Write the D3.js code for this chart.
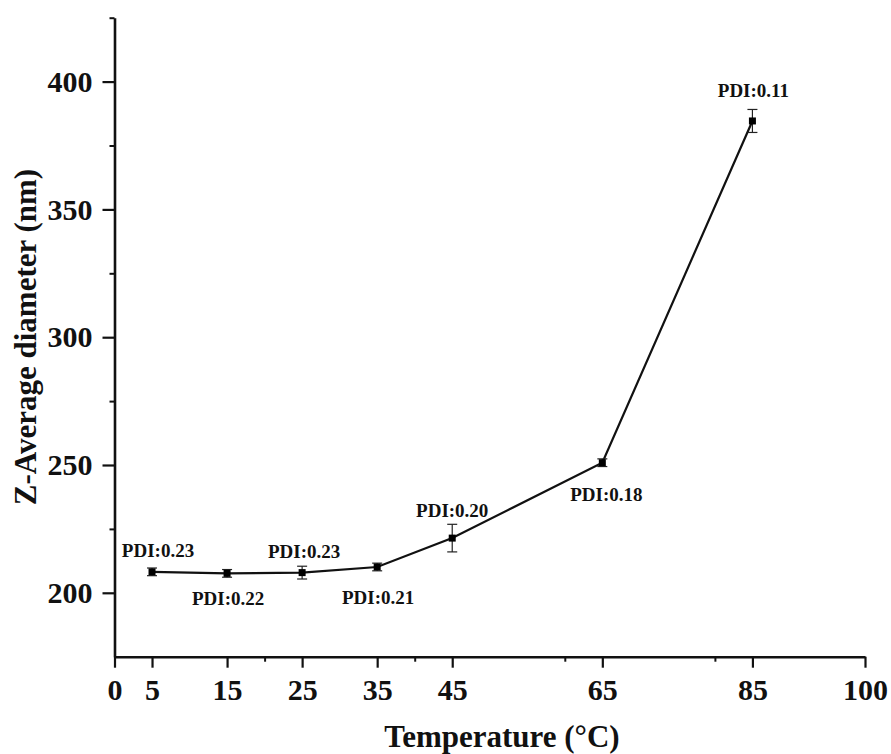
<!DOCTYPE html>
<html>
<head>
<meta charset="utf-8">
<script src="https://cdn.jsdelivr.net/npm/d3@7"></script>
<style>
    html, body { margin: 0; padding: 0; background: #fff; }
    svg { display: block; font-family: "Liberation Serif", "Times New Roman", serif; }
</style>
</head>
<body>
<svg id="chart" width="891" height="754"></svg>
<script>
// Data
const temperatures = [5, 15, 25, 35, 45, 65, 85];
const diameters = [208.2, 207.6, 207.9, 210.1, 221.4, 250.9, 384.6];
const errors = [1.5, 1.5, 2.5, 1.5, 5.4, 1.5, 4.5];
const pdiLabels = ['PDI:0.23', 'PDI:0.22', 'PDI:0.23', 'PDI:0.21', 'PDI:0.20', 'PDI:0.18', 'PDI:0.11'];

// Axis ticks
const xMajorTicks = [0, 5, 15, 25, 35, 45, 65, 85, 100];
const xMinorTicks = [20, 40, 60, 80];
const yMajorTicks = [200, 250, 300, 350, 400];
const yMinorTicks = [225, 275, 325, 375, 425];

// Label placement (pixel offsets from each point)
const labelOffsets = [[6, -15], [1, 32], [2, -15], [1, 37], [0, -21], [4, 38], [1, -24]];

const data = temperatures.map((t, i) => ({
    t: t,
    d: diameters[i],
    e: errors[i],
    label: pdiLabels[i],
    off: labelOffsets[i]
}));

const svg = d3.select('#chart');

// Scales
const xScale = d3.scaleLinear().domain([0, 100]).range([114.5, 865]);
const yScale = d3.scaleLinear().domain([175, 425]).range([656.7, 17.7]);

const axisColor = '#111';
const serif = '"Liberation Serif", "Times New Roman", serif';

// X axis (major ticks with labels)
const xAxis = svg.append('g')
    .attr('transform', `translate(0,${yScale(175)})`)
    .call(d3.axisBottom(xScale).tickValues(xMajorTicks).tickSize(11).tickPadding(11).tickSizeOuter(0));
xAxis.select('.domain').attr('stroke', axisColor).attr('stroke-width', 2.6);
xAxis.selectAll('.tick line').attr('stroke', axisColor).attr('stroke-width', 2.2);
xAxis.selectAll('.tick text')
    .attr('fill', '#111')
    .style('font-size', '30px')
    .style('font-weight', 'bold')
    .style('font-family', serif);

// X axis minor ticks
svg.append('g')
    .attr('transform', `translate(0,${yScale(175)})`)
    .call(d3.axisBottom(xScale).tickValues(xMinorTicks).tickSize(5).tickFormat(''))
    .call(g => g.select('.domain').remove())
    .selectAll('.tick line').attr('stroke', axisColor).attr('stroke-width', 2);

// Y axis (major ticks with labels)
const yAxis = svg.append('g')
    .attr('transform', `translate(${xScale(0)},0)`)
    .call(d3.axisLeft(yScale).tickValues(yMajorTicks).tickSize(12).tickPadding(10).tickSizeOuter(0));
yAxis.select('.domain').attr('stroke', axisColor).attr('stroke-width', 2.6);
yAxis.selectAll('.tick line').attr('stroke', axisColor).attr('stroke-width', 2.2);
yAxis.selectAll('.tick text')
    .attr('fill', '#111')
    .style('font-size', '30px')
    .style('font-weight', 'bold')
    .style('font-family', serif);

// Y axis minor ticks
svg.append('g')
    .attr('transform', `translate(${xScale(0)},0)`)
    .call(d3.axisLeft(yScale).tickValues(yMinorTicks).tickSize(5).tickFormat(''))
    .call(g => g.select('.domain').remove())
    .selectAll('.tick line').attr('stroke', axisColor).attr('stroke-width', 2);

// Connecting line
const line = d3.line()
    .x(d => xScale(d.t))
    .y(d => yScale(d.d));

svg.append('path')
    .datum(data)
    .attr('fill', 'none')
    .attr('stroke', '#111')
    .attr('stroke-width', 2.2)
    .attr('d', line);

// Error bars
const capHalf = 5;
const eb = svg.append('g').attr('stroke', '#222').attr('stroke-width', 1.2);
data.forEach(d => {
    const x = xScale(d.t);
    const y1 = yScale(d.d + d.e);
    const y2 = yScale(d.d - d.e);
    eb.append('line').attr('x1', x).attr('x2', x).attr('y1', y1).attr('y2', y2);
    eb.append('line').attr('x1', x - capHalf).attr('x2', x + capHalf).attr('y1', y1).attr('y2', y1);
    eb.append('line').attr('x1', x - capHalf).attr('x2', x + capHalf).attr('y1', y2).attr('y2', y2);
});

// Square markers
const ms = 7;
svg.selectAll('.marker')
    .data(data)
    .enter()
    .append('rect')
    .attr('class', 'marker')
    .attr('x', d => xScale(d.t) - ms / 2)
    .attr('y', d => yScale(d.d) - ms / 2)
    .attr('width', ms)
    .attr('height', ms)
    .attr('fill', '#000');

// PDI labels
svg.selectAll('.pdi')
    .data(data)
    .enter()
    .append('text')
    .attr('class', 'pdi')
    .attr('x', d => xScale(d.t) + d.off[0])
    .attr('y', d => yScale(d.d) + d.off[1])
    .attr('text-anchor', 'middle')
    .attr('fill', '#111')
    .style('font-size', '19px')
    .style('font-weight', 'bold')
    .text(d => d.label);

// Axis titles
svg.append('text')
    .attr('x', 502)
    .attr('y', 747)
    .attr('text-anchor', 'middle')
    .attr('fill', '#111')
    .style('font-size', '31px')
    .style('font-weight', 'bold')
    .text('Temperature (°C)');

svg.append('text')
    .attr('transform', 'translate(36,337) rotate(-90)')
    .attr('text-anchor', 'middle')
    .attr('fill', '#111')
    .style('font-size', '31px')
    .style('font-weight', 'bold')
    .text('Z-Average diameter (nm)');
</script>
</body>
</html>
